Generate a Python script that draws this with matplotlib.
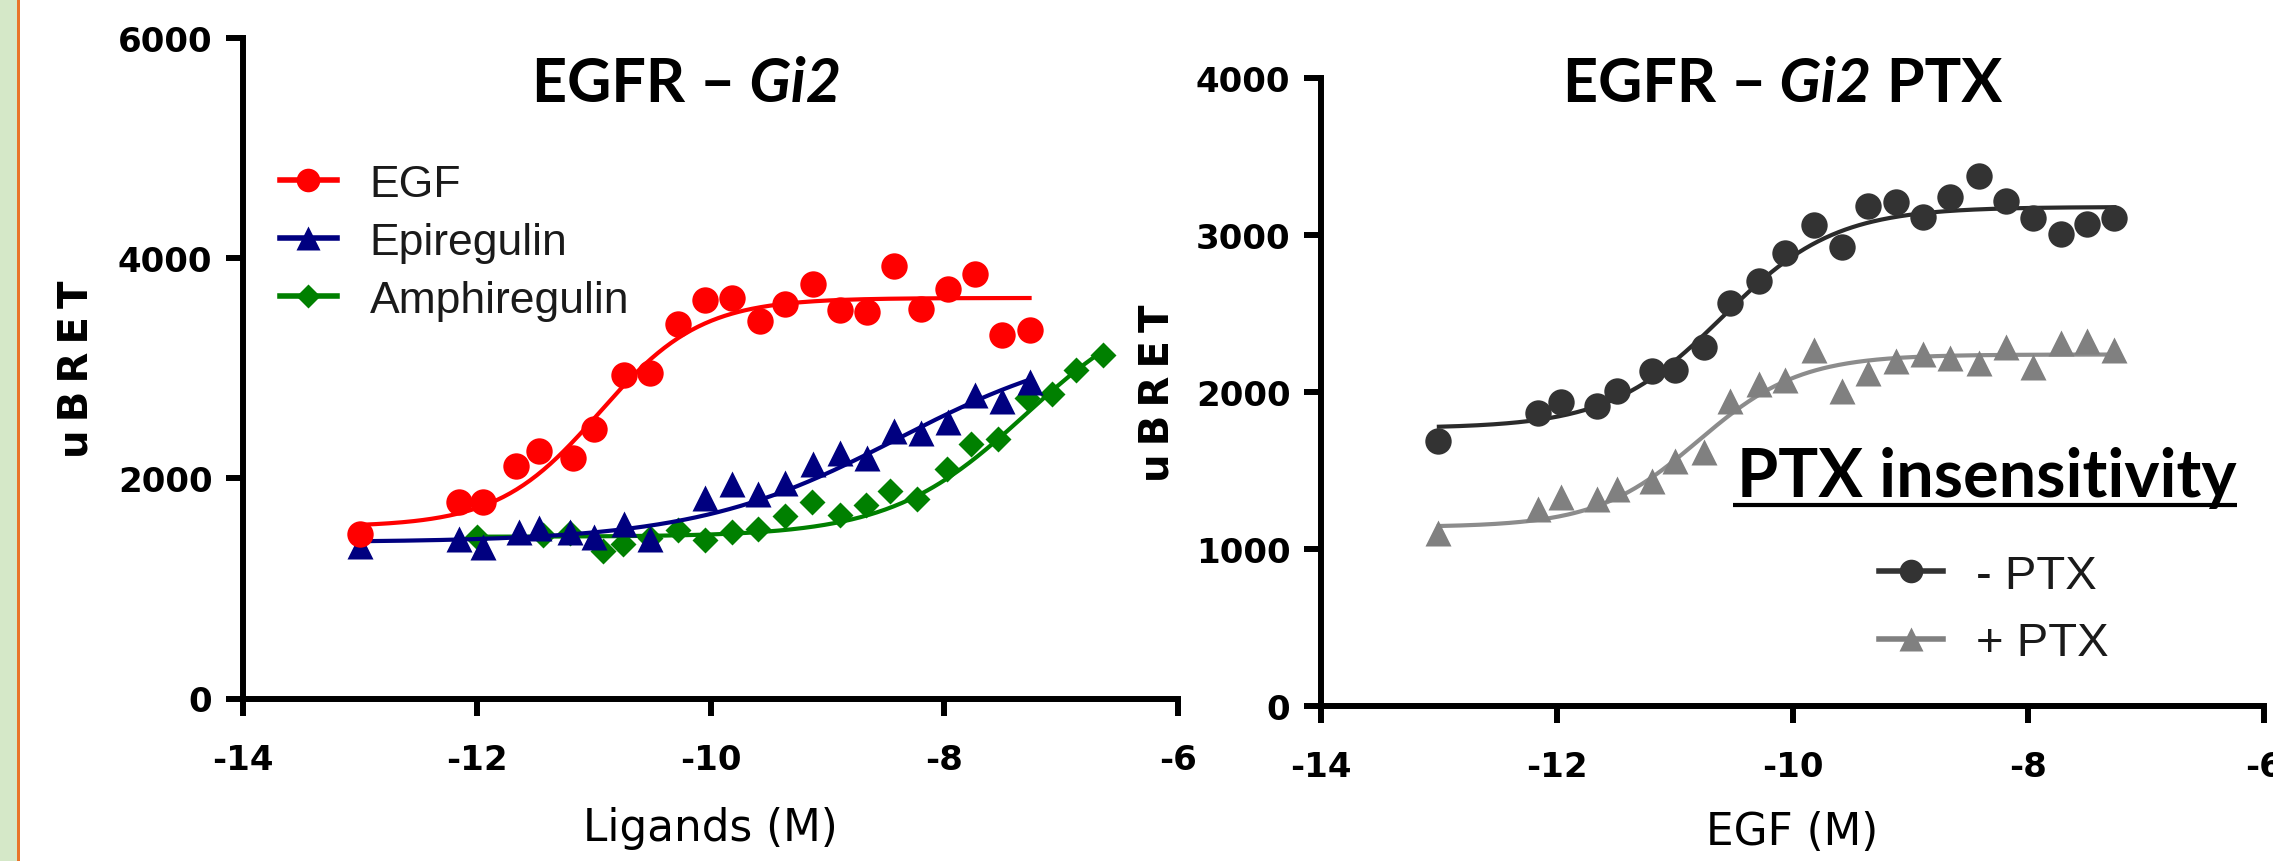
import numpy as np
import matplotlib
matplotlib.use("Agg")
import matplotlib.pyplot as plt
from matplotlib.patches import Rectangle
from matplotlib.lines import Line2D

# ------------------------------------------------------------------ data
# Left panel: EGFR - Gi2, ligands
egf_x = [-13.0, -12.15, -11.95, -11.66, -11.47, -11.18, -11.0, -10.74, -10.52, -10.28,
         -10.05, -9.82, -9.58, -9.36, -9.12, -8.89, -8.66, -8.43, -8.2, -7.97,
         -7.74, -7.51, -7.27]
egf_y = [1496, 1786, 1786, 2110, 2250, 2185, 2449, 2943, 2958, 3407,
         3626, 3641, 3432, 3581, 3766, 3531, 3516, 3930, 3541, 3721,
         3856, 3307, 3347]
epi_x = [-13.0, -12.15, -11.95, -11.64, -11.47, -11.2, -11.0, -10.74, -10.52, -10.05,
         -9.82, -9.59, -9.36, -9.12, -8.89, -8.66, -8.43, -8.2, -7.97, -7.74,
         -7.51, -7.27]
epi_y = [1387, 1447, 1377, 1511, 1546, 1511, 1471, 1586, 1452, 1826,
         1950, 1861, 1960, 2135, 2235, 2185, 2434, 2409, 2509, 2758,
         2708, 2873]
amph_x = [-12.0, -11.43, -11.2, -10.92, -10.75, -10.52, -10.28, -10.05, -9.82, -9.59,
          -9.36, -9.13, -8.89, -8.67, -8.46, -8.23, -7.98, -7.77, -7.54, -7.29,
          -7.08, -6.87, -6.64]
amph_y = [1468, 1490, 1500, 1340, 1404, 1460, 1530, 1440, 1511, 1540,
          1655, 1786, 1671, 1761, 1885, 1811, 2085, 2309, 2359, 2733,
          2768, 2983, 3118]

# Right panel: EGFR - Gi2 PTX, EGF
noptx_x = [-13.01, -12.16, -11.96, -11.66, -11.49, -11.19, -11.0, -10.75, -10.53, -10.28,
           -10.06, -9.82, -9.58, -9.36, -9.12, -8.89, -8.66, -8.42, -8.19, -7.96,
           -7.72, -7.5, -7.27]
noptx_y = [1687, 1866, 1937, 1909, 2007, 2137, 2144, 2285, 2566, 2710,
           2886, 3062, 2928, 3185, 3209, 3114, 3244, 3378, 3216, 3111,
           3005, 3069, 3111]
ptx_x = noptx_x
ptx_y = [1100, 1258, 1329, 1322, 1381, 1434, 1564, 1620, 1944, 2049,
         2077, 2267, 2007, 2120, 2200, 2243, 2218, 2183, 2288, 2162,
         2313, 2323, 2267]

# fitted 4-parameter logistic curves: [bottom, top, logEC50, hill], and x-range
egf_fit = [1560, 3640, -10.95, 1.0]
epi_fit = [1420, 3300, -8.4, 0.5]
amph_fit = [1470, 3700, -7.3, 0.75]
noptx_fit = [1770, 3180, -10.6, 0.9]
ptx_fit = [1140, 2240, -10.8, 1.0]
egf_rng = [-13.0, -7.27]
epi_rng = [-13.0, -7.27]
amph_rng = [-12.0, -6.64]
noptx_rng = [-13.0, -7.27]
ptx_rng = [-13.0, -7.27]

left_yticks = [0, 2000, 4000, 6000]
right_yticks = [0, 1000, 2000, 3000, 4000]
xticks = [-14, -12, -10, -8, -6]


def fourpl(x, p):
    b, t, ec, h = p
    return b + (t - b) / (1.0 + 10.0 ** ((ec - x) * h))


def curve(rng, p):
    xs = np.linspace(rng[0], rng[1], 300)
    return xs, fourpl(xs, p)


# ------------------------------------------------------------------ figure
W, H = 2273, 862
fig = plt.figure(figsize=(W / 100, H / 100), dpi=100)
fig.patch.set_facecolor("white")

# green side strip with orange border
fig.patches.append(Rectangle((0, 0), 17 / W, 1, transform=fig.transFigure,
                             facecolor="#d5e8c8", edgecolor="none", zorder=0))
fig.patches.append(Rectangle((17 / W, 0), 2.5 / W, 1, transform=fig.transFigure,
                             facecolor="#e8742a", edgecolor="none", zorder=0))

axL = fig.add_axes([243 / W, 1 - 699.5 / H, (1178 - 243) / W, 660.2 / H])
axR = fig.add_axes([1321 / W, 1 - 707 / H, (2264 - 1321) / W, 627.7 / H])

tickfont = dict(family="DejaVu Sans", weight="bold", size=24.5)
for ax in (axL, axR):
    ax.set_facecolor("none")
    for s in ("top", "right"):
        ax.spines[s].set_visible(False)
    for s in ("left", "bottom"):
        ax.spines[s].set_linewidth(4.3)
    ax.tick_params(direction="out", length=12, width=4.3)
    ax.tick_params(axis="x", pad=20)
    ax.tick_params(axis="y", pad=10)
    ax.set_xlim(-14, -6)
    ax.set_xticks(xticks)
    ax.set_xticklabels([str(t) for t in xticks], **tickfont)

axL.set_ylim(0, 6000)
axL.set_yticks(left_yticks)
axL.set_yticklabels([str(t) for t in left_yticks], **tickfont)
axR.set_ylim(0, 4000)
axR.set_yticks(right_yticks)
axR.set_yticklabels([str(t) for t in right_yticks], **tickfont)

ylab = "u\u2009B\u2009R\u2009E\u2009T"
for ax, xc in ((axL, -0.157), (axR, -0.1526)):
    ax.set_ylabel(ylab, fontfamily="DejaVu Sans", fontweight="bold", fontsize=29)
    ax.yaxis.set_label_coords(xc, 0.5)
axL.set_xlabel("Ligands (M)", fontfamily="DejaVu Sans", fontsize=31.5)
axL.xaxis.set_label_coords(0.5, -0.163)
axR.set_xlabel("EGF (M)", fontfamily="DejaVu Sans", fontsize=31.5)
axR.xaxis.set_label_coords(0.5, -0.166)

# ---------------- left panel series (green under blue under red)
lw = 3.0
xs, ys = curve(amph_rng, amph_fit)
axL.plot(xs, ys, color="#008000", lw=lw, zorder=2, clip_on=False)
axL.plot(amph_x, amph_y, "D", color="#008000", ms=13.5, mec="none", zorder=3, clip_on=False)
xs, ys = curve(epi_rng, epi_fit)
axL.plot(xs, ys, color="#000080", lw=lw, zorder=4, clip_on=False)
axL.plot(epi_x, epi_y, "^", color="#000080", ms=19, mec="none", zorder=5, clip_on=False)
xs, ys = curve(egf_rng, egf_fit)
axL.plot(xs, ys, color="#ff0000", lw=lw, zorder=6, clip_on=False)
axL.plot(egf_x, egf_y, "o", color="#ff0000", ms=19, mec="none", zorder=7, clip_on=False)

hL = [Line2D([], [], color="#ff0000", lw=4, marker="o", ms=17, mec="none"),
      Line2D([], [], color="#000080", lw=4, marker="^", ms=17, mec="none"),
      Line2D([], [], color="#008000", lw=4, marker="D", ms=12, mec="none")]
legL = axL.legend(hL, ["EGF", "Epiregulin", "Amphiregulin"], loc="upper left",
                  bbox_to_anchor=((280 - 243) / 935, (699.5 - 165) / 660.2),
                  frameon=False, borderpad=0, borderaxespad=0, handlelength=1.28,
                  handletextpad=0.74, labelspacing=0.38,
                  prop=dict(family="Liberation Sans", size=32))
for t in legL.get_texts():
    t.set_color("#1a1a1a")

# ---------------- right panel series
xs, ys = curve(ptx_rng, ptx_fit)
axR.plot(xs, ys, color="#8c8c8c", lw=lw, zorder=2, clip_on=False)
axR.plot(ptx_x, ptx_y, "^", color="#808080", ms=19, mec="none", zorder=3, clip_on=False)
xs, ys = curve(noptx_rng, noptx_fit)
axR.plot(xs, ys, color="#2b2b2b", lw=lw, zorder=4, clip_on=False)
axR.plot(noptx_x, noptx_y, "o", color="#333333", ms=19, mec="none", zorder=5, clip_on=False)

hR = [Line2D([], [], color="#333333", lw=4, marker="o", ms=17, mec="none"),
      Line2D([], [], color="#808080", lw=4, marker="^", ms=17, mec="none")]
legR = axR.legend(hR, ["- PTX", "+ PTX"], loc="upper left",
                  bbox_to_anchor=((1879 - 1321) / 943, (707 - 555) / 627.7),
                  frameon=False, borderpad=0, borderaxespad=0, handlelength=1.36,
                  handletextpad=0.7, labelspacing=0.49,
                  prop=dict(family="Liberation Sans", size=34))
for t in legR.get_texts():
    t.set_color("#1a1a1a")

# ---------------- titles
tfam = "Lato"
tsize = 44
def title_parts(x_px, parts):
    prev = None
    for txt, style in parts:
        kw = dict(fontfamily=tfam, fontweight="bold", fontsize=tsize,
                  fontstyle=style, color="black")
        if prev is None:
            prev = fig.text(x_px / W, 1 - 102 / H, txt, ha="left", va="baseline", **kw)
        else:
            prev = axL.annotate(txt, xy=(1, 0), xycoords=prev, ha="left", va="bottom",
                                annotation_clip=False, **kw)

title_parts(532, [("EGFR \u2013", "normal"), (" Gi2", "italic")])
title_parts(1563, [("EGFR \u2013", "normal"), (" Gi2", "italic"), (" PTX", "normal")])

ptx_t = fig.text(1737 / W, 1 - 497 / H, "PTX insensitivity", ha="left", va="baseline",
                 fontfamily=tfam, fontweight="bold", fontsize=48, color="black")
fig.canvas.draw()
bb = ptx_t.get_window_extent(fig.canvas.get_renderer())
uy = (H - 506) / H
fig.add_artist(Line2D([bb.x0 / W - 4 / W, bb.x1 / W], [uy, uy], transform=fig.transFigure,
                      color="black", lw=3.0, solid_capstyle="butt"))

fig.savefig("out.png", dpi=100)
